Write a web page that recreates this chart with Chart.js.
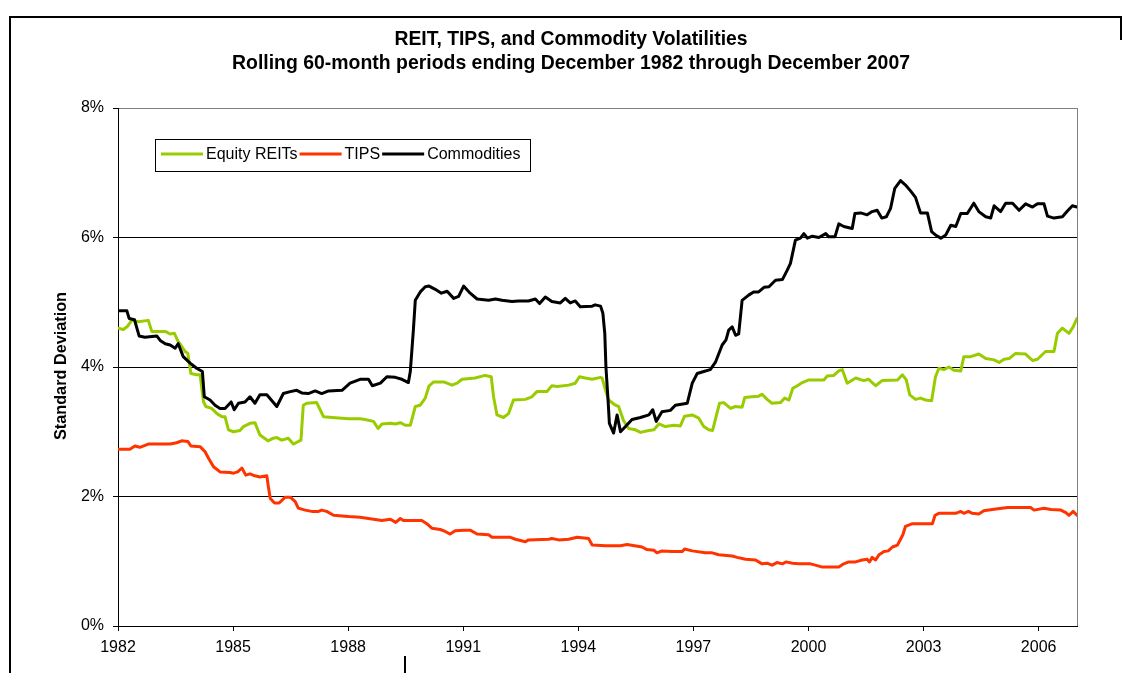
<!DOCTYPE html>
<html>
<head>
<meta charset="utf-8">
<script src="https://cdn.jsdelivr.net/npm/chart.js@4.4.0/dist/chart.umd.min.js"></script>
<style>
  html, body { margin: 0; padding: 0; background: #fff; }
</style>
</head>
<body>
<canvas id="chart" width="1132" height="673"></canvas>
<script>
// chart text
const titleLines = [
    'REIT, TIPS, and Commodity Volatilities',
    'Rolling 60-month periods ending December 1982 through December 2007'
];
const yAxisTitle = 'Standard Deviation';

// axes
const startYear = 1982;
const xTickLabels = ['1982', '1985', '1988', '1991', '1994', '1997', '2000', '2003', '2006'];
const yTickValues = [0, 2, 4, 6, 8];

// series: [years after Dec 1982, standard deviation in %]
const seriesNames = ['Equity REITs', 'TIPS', 'Commodities'];
const seriesColors = ['#99CC00', '#FF3300', '#000000'];

const reitData = [
    [0.00,4.60],[0.14,4.58],[0.25,4.63],[0.36,4.72],[0.53,4.70],[0.79,4.72],[0.88,4.55],[1.23,4.55],[1.36,4.51],[1.47,4.52],
    [1.57,4.39],[1.66,4.32],[1.75,4.24],[1.82,4.21],[1.90,3.90],[2.05,3.88],[2.14,3.88],[2.23,3.46],[2.29,3.39],[2.44,3.36],
    [2.58,3.28],[2.71,3.23],[2.79,3.23],[2.88,3.03],[3.01,3.00],[3.18,3.02],[3.27,3.08],[3.44,3.13],[3.57,3.14],[3.70,2.95],
    [3.91,2.86],[4.05,2.90],[4.14,2.91],[4.27,2.87],[4.44,2.90],[4.57,2.81],[4.70,2.85],[4.77,2.87],[4.83,3.41],[4.92,3.44],
    [5.18,3.45],[5.27,3.34],[5.36,3.23],[5.58,3.22],[5.84,3.21],[6.01,3.20],[6.31,3.20],[6.44,3.19],[6.66,3.16],[6.78,3.05],
    [6.88,3.12],[7.10,3.13],[7.23,3.12],[7.36,3.14],[7.49,3.10],[7.62,3.10],[7.75,3.39],[7.88,3.41],[8.01,3.52],[8.11,3.71],
    [8.23,3.77],[8.49,3.77],[8.71,3.72],[8.84,3.75],[8.97,3.81],[9.31,3.83],[9.57,3.87],[9.73,3.85],[9.79,3.54],[9.88,3.26],
    [10.05,3.22],[10.18,3.28],[10.31,3.49],[10.62,3.50],[10.79,3.54],[10.92,3.62],[11.18,3.62],[11.31,3.71],[11.45,3.70],[11.75,3.72],
    [11.92,3.75],[12.03,3.85],[12.18,3.83],[12.36,3.81],[12.58,3.84],[12.62,3.83],[12.71,3.64],[12.79,3.49],[12.90,3.44],[12.97,3.41],
    [13.05,3.39],[13.18,3.17],[13.31,3.05],[13.49,3.03],[13.62,2.99],[13.84,3.02],[13.97,3.03],[14.10,3.12],[14.27,3.08],[14.49,3.10],
    [14.66,3.09],[14.77,3.24],[14.97,3.26],[15.14,3.21],[15.27,3.08],[15.40,3.03],[15.50,3.02],[15.68,3.44],[15.79,3.45],[15.97,3.36],
    [16.10,3.39],[16.27,3.38],[16.34,3.53],[16.53,3.54],[16.70,3.55],[16.79,3.58],[16.92,3.50],[17.05,3.44],[17.27,3.45],[17.38,3.52],
    [17.49,3.49],[17.59,3.67],[17.71,3.71],[17.84,3.76],[18.01,3.80],[18.40,3.80],[18.49,3.86],[18.66,3.87],[18.79,3.94],[18.88,3.96],
    [19.01,3.75],[19.23,3.83],[19.44,3.79],[19.57,3.81],[19.75,3.71],[19.92,3.79],[20.32,3.80],[20.45,3.88],[20.55,3.80],[20.64,3.57],
    [20.79,3.50],[20.92,3.52],[21.05,3.49],[21.21,3.48],[21.31,3.85],[21.40,3.98],[21.53,3.96],[21.66,4.00],[21.79,3.95],[21.97,3.94],
    [22.05,4.16],[22.23,4.16],[22.44,4.20],[22.62,4.13],[22.84,4.11],[22.97,4.07],[23.10,4.12],[23.23,4.13],[23.40,4.21],[23.66,4.20],
    [23.84,4.10],[23.97,4.12],[24.18,4.24],[24.40,4.24],[24.49,4.52],[24.62,4.60],[24.79,4.52],[24.90,4.62],[25.00,4.75]
];

const tipsData = [
    [0.00,2.73],[0.31,2.73],[0.44,2.78],[0.57,2.76],[0.79,2.81],[1.36,2.81],[1.53,2.83],[1.66,2.86],[1.82,2.85],[1.90,2.78],
    [2.14,2.77],[2.27,2.69],[2.36,2.59],[2.49,2.46],[2.66,2.38],[2.92,2.37],[3.01,2.36],[3.12,2.38],[3.23,2.44],[3.33,2.33],
    [3.44,2.35],[3.57,2.32],[3.70,2.30],[3.88,2.32],[3.92,2.15],[3.97,1.97],[4.08,1.90],[4.20,1.90],[4.36,1.99],[4.49,1.99],
    [4.62,1.92],[4.70,1.82],[4.88,1.79],[5.05,1.77],[5.23,1.77],[5.31,1.79],[5.44,1.77],[5.62,1.71],[5.84,1.70],[6.01,1.69],
    [6.31,1.68],[6.53,1.66],[6.88,1.63],[7.10,1.65],[7.24,1.60],[7.36,1.66],[7.44,1.63],[7.92,1.63],[8.05,1.58],[8.18,1.51],
    [8.40,1.49],[8.53,1.46],[8.66,1.42],[8.79,1.47],[9.01,1.48],[9.18,1.48],[9.36,1.42],[9.66,1.41],[9.75,1.37],[10.23,1.37],
    [10.36,1.34],[10.62,1.30],[10.70,1.33],[11.23,1.34],[11.31,1.35],[11.49,1.33],[11.75,1.34],[11.97,1.37],[12.27,1.35],[12.36,1.25],
    [12.71,1.24],[13.10,1.24],[13.27,1.26],[13.66,1.22],[13.79,1.18],[13.97,1.17],[14.05,1.13],[14.18,1.16],[14.45,1.15],[14.71,1.15],
    [14.77,1.19],[14.97,1.16],[15.31,1.13],[15.49,1.13],[15.66,1.10],[16.01,1.08],[16.14,1.06],[16.36,1.03],[16.62,1.02],[16.79,0.96],
    [16.92,0.97],[17.05,0.94],[17.18,0.98],[17.32,0.96],[17.42,0.99],[17.58,0.97],[17.75,0.96],[18.05,0.96],[18.18,0.94],[18.36,0.91],
    [18.79,0.91],[18.92,0.96],[19.05,0.99],[19.23,0.99],[19.40,1.02],[19.53,1.03],[19.59,0.99],[19.66,1.06],[19.75,1.02],[19.84,1.10],
    [19.97,1.15],[20.08,1.16],[20.19,1.22],[20.32,1.25],[20.40,1.34],[20.46,1.41],[20.53,1.54],[20.71,1.58],[21.23,1.58],[21.30,1.71],
    [21.40,1.74],[21.84,1.74],[21.97,1.77],[22.05,1.74],[22.17,1.77],[22.27,1.74],[22.44,1.73],[22.57,1.78],[22.79,1.80],[23.19,1.83],
    [23.79,1.83],[23.88,1.79],[24.14,1.82],[24.32,1.80],[24.58,1.79],[24.71,1.75],[24.79,1.71],[24.90,1.77],[25.00,1.71]
];

const commodityData = [
    [0.00,4.87],[0.23,4.87],[0.29,4.75],[0.43,4.73],[0.55,4.48],[0.70,4.46],[1.01,4.48],[1.10,4.41],[1.23,4.36],[1.36,4.34],
    [1.49,4.29],[1.57,4.36],[1.70,4.16],[1.88,4.06],[2.05,3.98],[2.20,3.93],[2.25,3.54],[2.40,3.49],[2.53,3.41],[2.66,3.36],
    [2.79,3.36],[2.95,3.46],[3.03,3.34],[3.14,3.44],[3.31,3.46],[3.44,3.54],[3.57,3.44],[3.70,3.57],[3.88,3.57],[4.14,3.39],
    [4.31,3.59],[4.49,3.62],[4.66,3.64],[4.79,3.60],[4.96,3.59],[5.14,3.63],[5.31,3.59],[5.49,3.63],[5.84,3.64],[6.05,3.75],
    [6.31,3.81],[6.53,3.81],[6.63,3.71],[6.84,3.75],[7.01,3.85],[7.23,3.84],[7.40,3.81],[7.57,3.76],[7.62,3.93],[7.70,4.57],
    [7.75,5.03],[7.88,5.16],[8.01,5.24],[8.11,5.25],[8.27,5.20],[8.43,5.14],[8.58,5.17],[8.75,5.06],[8.88,5.09],[9.01,5.25],
    [9.18,5.14],[9.36,5.05],[9.66,5.03],[9.84,5.05],[10.01,5.03],[10.27,5.01],[10.44,5.02],[10.70,5.02],[10.88,5.05],[10.99,4.98],
    [11.14,5.08],[11.31,5.01],[11.53,4.99],[11.66,5.06],[11.79,4.99],[11.92,5.02],[12.05,4.93],[12.36,4.94],[12.44,4.96],[12.58,4.94],
    [12.64,4.83],[12.69,4.52],[12.72,4.00],[12.78,3.44],[12.81,3.13],[12.92,2.98],[13.01,3.26],[13.10,3.00],[13.23,3.08],[13.40,3.19],
    [13.62,3.22],[13.84,3.26],[13.94,3.34],[14.03,3.16],[14.18,3.31],[14.40,3.33],[14.53,3.41],[14.84,3.44],[14.97,3.75],[15.10,3.90],
    [15.27,3.93],[15.44,3.96],[15.58,4.08],[15.75,4.34],[15.85,4.42],[15.92,4.57],[16.01,4.62],[16.10,4.49],[16.18,4.51],[16.27,5.03],
    [16.44,5.11],[16.57,5.16],[16.70,5.16],[16.84,5.23],[16.97,5.24],[17.14,5.34],[17.32,5.35],[17.45,5.50],[17.53,5.60],[17.66,5.96],
    [17.79,5.99],[17.88,6.06],[17.97,5.99],[18.10,6.02],[18.27,6.00],[18.45,6.06],[18.53,6.01],[18.69,6.01],[18.79,6.21],[18.92,6.17],
    [19.14,6.14],[19.21,6.37],[19.36,6.38],[19.53,6.35],[19.66,6.40],[19.79,6.42],[19.91,6.30],[20.03,6.32],[20.14,6.45],[20.25,6.76],
    [20.40,6.88],[20.53,6.81],[20.66,6.72],[20.79,6.62],[20.92,6.38],[21.10,6.38],[21.21,6.09],[21.31,6.04],[21.45,5.99],[21.58,6.04],
    [21.71,6.19],[21.84,6.17],[21.97,6.37],[22.14,6.37],[22.31,6.53],[22.44,6.40],[22.62,6.32],[22.75,6.30],[22.84,6.49],[23.01,6.40],
    [23.14,6.53],[23.32,6.53],[23.49,6.42],[23.66,6.52],[23.84,6.47],[23.97,6.52],[24.14,6.52],[24.23,6.33],[24.40,6.30],[24.62,6.32],
    [24.75,6.41],[24.88,6.49],[25.00,6.47]
];

const allSeries = [reitData, tipsData, commodityData];

const fontFamily = '"Liberation Sans", Arial, sans-serif';
const tickFont = { family: fontFamily, size: 16 };

// titles, frame, plot border and legend drawn on the canvas
const decorPlugin = {
    id: 'decor',
    beforeDraw(chart) {
        const { ctx, chartArea: a } = chart;
        ctx.save();
        ctx.fillStyle = '#fff';
        ctx.fillRect(0, 0, chart.width, chart.height);

        // gray plot-area border (left and bottom get covered by the axes)
        ctx.strokeStyle = '#808080';
        ctx.lineWidth = 1;
        ctx.strokeRect(a.left + 0.5, a.top + 0.5, a.right - a.left, a.bottom - a.top);

        // outer frame of the figure
        ctx.strokeStyle = '#000';
        ctx.lineWidth = 2;
        ctx.beginPath();
        ctx.moveTo(10, 673);
        ctx.lineTo(10, 17);
        ctx.lineTo(1121, 17);
        ctx.lineTo(1121, 40);
        ctx.moveTo(405, 656);
        ctx.lineTo(405, 673);
        ctx.stroke();
        ctx.restore();
    },
    afterDraw(chart) {
        const ctx = chart.ctx;
        ctx.save();
        ctx.fillStyle = '#000';

        // two-line title, slightly condensed like the original
        const titleBaselines = [45, 69];
        const titleWidths = [353, 678];
        ctx.font = 'bold 21px ' + fontFamily;
        ctx.textAlign = 'center';
        ctx.textBaseline = 'alphabetic';
        titleLines.forEach((line, i) => {
            const w = ctx.measureText(line).width;
            ctx.save();
            ctx.translate(571, titleBaselines[i]);
            ctx.scale(titleWidths[i] / w, 1);
            ctx.fillText(line, 0, 0);
            ctx.restore();
        });

        // rotated y-axis title
        ctx.font = 'bold 16px ' + fontFamily;
        ctx.textBaseline = 'middle';
        const yw = ctx.measureText(yAxisTitle).width;
        ctx.save();
        ctx.translate(62, 366);
        ctx.rotate(-Math.PI / 2);
        ctx.scale(148 / yw, 1);
        ctx.fillText(yAxisTitle, 0, 0);
        ctx.restore();

        // legend box inside the plot
        const box = { x: 155, y: 139, w: 375, h: 32 };
        ctx.strokeStyle = '#000';
        ctx.lineWidth = 1;
        ctx.strokeRect(box.x + 0.5, box.y + 0.5, box.w, box.h);
        ctx.font = '16px ' + fontFamily;
        ctx.textAlign = 'left';
        ctx.textBaseline = 'alphabetic';
        let x = box.x + 6;
        const midY = box.y + 15;
        seriesNames.forEach((name, i) => {
            ctx.strokeStyle = seriesColors[i];
            ctx.lineWidth = 3;
            ctx.beginPath();
            ctx.moveTo(x, midY);
            ctx.lineTo(x + 42, midY);
            ctx.stroke();
            x += 45;
            ctx.fillText(name, x, midY + 5);
            x += ctx.measureText(name).width + 2;
        });
        ctx.restore();
    }
};

new Chart(document.getElementById('chart'), {
    type: 'line',
    data: {
        datasets: seriesNames.map((name, i) => ({
            label: name,
            data: allSeries[i].map(p => ({ x: startYear + p[0], y: p[1] })),
            borderColor: seriesColors[i],
            backgroundColor: seriesColors[i],
            order: 2 - i // commodities drawn on top
        }))
    },
    options: {
        responsive: false,
        animation: false,
        devicePixelRatio: 1,
        layout: { padding: { top: 108, right: 55, left: 0, bottom: 0 } },
        plugins: {
            legend: { display: false },
            title: { display: false },
            tooltip: { enabled: false }
        },
        elements: {
            point: { radius: 0 },
            line: { tension: 0, borderWidth: 3, borderJoinStyle: 'round', borderCapStyle: 'round', fill: false }
        },
        scales: {
            x: {
                type: 'linear',
                min: startYear,
                max: startYear + 25,
                afterBuildTicks: s => { s.ticks = xTickLabels.map(l => ({ value: +l })); },
                afterFit: s => { s.height = 47; s.paddingLeft = 0; s.paddingRight = 0; },
                grid: { drawOnChartArea: false, drawTicks: true, tickLength: 5, tickColor: '#000' },
                border: { color: '#000', width: 1 },
                ticks: {
                    font: tickFont,
                    color: '#000',
                    padding: 7,
                    maxRotation: 0,
                    autoSkip: false,
                    callback: v => String(v)
                }
            },
            y: {
                min: 0,
                max: 8,
                afterBuildTicks: s => { s.ticks = yTickValues.map(v => ({ value: v })); },
                afterFit: s => { s.width = 118; s.paddingTop = 0; s.paddingBottom = 0; },
                grid: {
                    color: c => (c.tick && c.tick.value === 8 ? '#808080' : '#000'),
                    tickColor: '#000',
                    tickLength: 5
                },
                border: { color: '#000', width: 1 },
                ticks: {
                    font: tickFont,
                    color: '#000',
                    padding: 9,
                    callback: v => v + '%'
                }
            }
        }
    },
    plugins: [decorPlugin]
});
</script>
</body>
</html>
